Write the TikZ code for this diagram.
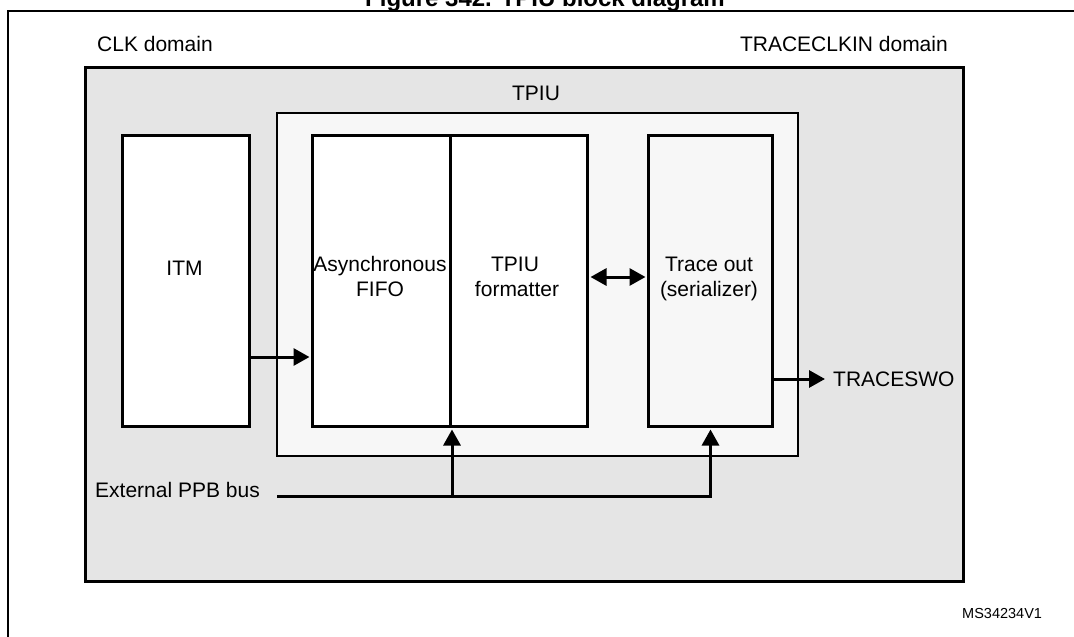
\documentclass[tikz,border=0pt]{standalone}
\usepackage{fontspec}
\setmainfont{Liberation Sans}
\usetikzlibrary{arrows.meta}
\definecolor{domaingray}{HTML}{E5E5E5}
\definecolor{tpiugray}{HTML}{F7F7F7}
\begin{document}
\begin{tikzpicture}[x=1pt,y=-1pt,
  lbl/.style={font=\fontsize{21}{25}\selectfont, inner sep=0pt},
  blk/.style={draw, line width=3pt, fill=white, anchor=north west, inner sep=0pt},
  arr/.style={line width=3pt, -{Triangle[length=16pt,width=17pt]}},
  biarr/.style={line width=3pt, {Triangle[length=16pt,width=17pt]}-{Triangle[length=16pt,width=17pt]}},
  wire/.style={line width=3pt}]
\useasboundingbox (0,0) rectangle (1074,637);
\fill[white] (0,0) rectangle (1074,637);
% title (cut off at top, as in the reference)
\node[font=\fontsize{24}{28}\selectfont\bfseries, inner sep=0pt, anchor=base] (title) at (545,6) {Figure 342. TPIU block diagram};
% outer frame
\draw[line width=2pt] (8,660) |- (1100,11);
% domain box
\node[draw, line width=3pt, fill=domaingray, anchor=north west, inner sep=0pt,
      minimum width=878, minimum height=514] (domain) at (84,66) {};
\node[lbl, anchor=base west] (clk) at (97,51) {CLK domain};
\node[lbl, anchor=base east] (tclk) at (948,51) {TRACECLKIN domain};
% TPIU box
\node[draw, line width=2pt, fill=tpiugray, anchor=north west, inner sep=0pt,
      minimum width=521, minimum height=343] (tpiu) at (276,112) {};
\node[lbl, anchor=base] (tpiulbl) at (536,100) {TPIU};
% blocks
\node[blk, line width=2.5pt, minimum width=127, minimum height=291] (itm) at (121,134) {};
\node[blk, minimum width=138, minimum height=291] (fifo) at (311,134) {};
\node[blk, minimum width=137, minimum height=291] (fmt) at (449,134) {};
\node[blk, fill=tpiugray, minimum width=124, minimum height=291] (trace) at (647,134) {};
% block texts
\node[lbl, anchor=base] (itmlbl) at (184.5,275) {ITM};
\node[lbl, anchor=base] (fifol1) at (380,271) {Asynchronous};
\node[lbl, anchor=base] (fifol2) at (380,296) {FIFO};
\node[lbl, anchor=base] (fmtl1) at (515,271) {TPIU};
\node[lbl, anchor=base] (fmtl2) at (517,296) {formatter};
\node[lbl, anchor=base] (trl1) at (709,271) {Trace out};
\node[lbl, anchor=base] (trl2) at (709,296) {(serializer)};
% connectors
\coordinate (yitm) at (0,357);
\draw[arr] (itm.east |- yitm) -- ([xshift=-1.5pt]fifo.west |- yitm);
\coordinate (ybi) at (0,277);
\draw[biarr] ([xshift=1.5pt]fmt.east |- ybi) -- ([xshift=-1.5pt]trace.west |- ybi);
\coordinate (sw) at (825,379);
\draw[arr] (trace.east |- sw) -- (sw);
\node[lbl, anchor=west] (swlbl) at (833,379) {TRACESWO};
% bus
\coordinate (busL) at (277,496);
\node[lbl, anchor=base west] (buslbl) at (95,497) {External PPB bus};
\draw[arr] (busL) -| ([yshift=-1.5pt]trace.south);
\draw[arr] (fifo.south east |- busL) -- ([yshift=-1.5pt]fifo.south east);
% id
\node[font=\fontsize{14.5}{17}\selectfont, inner sep=0pt, anchor=base west] (msid) at (962,618) {MS34234V1};
\end{tikzpicture}
\end{document}
